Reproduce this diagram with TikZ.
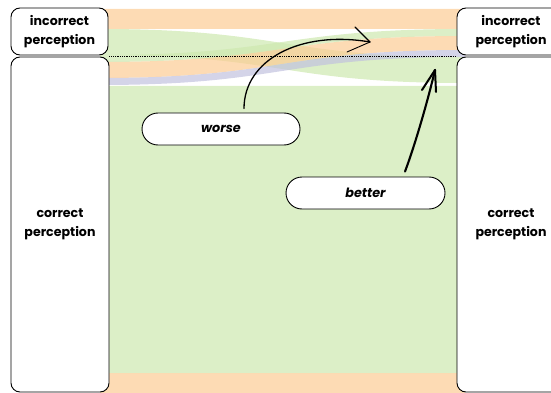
\documentclass[tikz,border=0pt]{standalone}
\usepackage{fontspec}
\setmainfont{Poppins}
\usetikzlibrary{arrows.meta}
\definecolor{flowOrange}{RGB}{252,204,148}
\definecolor{flowGreen}{RGB}{205,232,175}
\definecolor{flowPurple}{RGB}{194,194,222}
\newcommand\sankeyflow[5]{%
  \fill[#1, fill opacity=0.7] (100,#2) .. controls (282,#2) and (282,#4) .. (465,#4)
    -- (465,#5) .. controls (282,#5) and (282,#3) .. (100,#3) -- cycle;}
\begin{document}
\begin{tikzpicture}[x=1pt,y=-1pt,
  perbox/.style={draw, line width=0.9pt, rounded corners=9pt, fill=white,
    align=center, inner sep=0pt, font=\bfseries\fontsize{12.6}{18.5}\selectfont},
  pillbox/.style={draw, line width=0.9pt, rounded corners=16pt, fill=white,
    inner sep=0pt, minimum height=32pt, font=\bfseries\itshape\fontsize{12.8}{15}\selectfont},
  handline/.style={line cap=round, line join=round}]
\useasboundingbox (0,0) rectangle (551,393);
\clip (0,0) rectangle (551,393);
% flows
\sankeyflow{flowOrange}{9}{29}{9}{29}
\sankeyflow{flowGreen}{29}{55}{57}{83}
\sankeyflow{flowGreen}{55}{62}{29}{36}
\sankeyflow{flowOrange}{62}{78}{36}{50}
\sankeyflow{flowPurple}{78}{85}{50}{57}
\sankeyflow{flowGreen}{86}{373}{86}{373}
\sankeyflow{flowOrange}{373}{393}{373}{393}
% boxes
\node[perbox, minimum width=97pt, minimum height=47pt] (li) at (59.5,31.5) {incorrect\\perception};
\node[perbox, minimum width=98pt, minimum height=335pt] (lc) at (60,224.5) {correct\\perception};
\node[perbox, minimum width=108pt, minimum height=47pt] (ri) at (511,31.5) {incorrect\\perception};
\node[perbox, minimum width=108pt, minimum height=335pt] (rc) at (511,224.5) {correct\\perception};
\draw[line width=0.8pt, dash pattern=on 0.9pt off 0.9pt] (lc.north east) -- (rc.north west);
% labels
\node[pillbox, minimum width=158pt] (worse) at (221,129) {worse};
\node[pillbox, minimum width=159pt] (better) at (365.5,193) {better};
% arrows
\coordinate (wt) at (370,42);
\coordinate (bt) at (435,70);
\draw[handline, line width=1.3pt] ([xshift=23pt,yshift=4pt]worse.north) .. controls (244,60) and (300,30) .. (wt);
\draw[handline, line width=1.2pt] (wt) -- (355,27);
\draw[handline, line width=0.9pt] (wt) -- (347,52);
\draw[handline, line width=2.1pt] ([xshift=39.5pt,yshift=5pt]better.north) .. controls (415,145) and (428,100) .. (bt);
\draw[handline, line width=2pt] (bt) -- (422,90);
\draw[handline, line width=2pt] (bt) -- (436,92);
\end{tikzpicture}
\end{document}
